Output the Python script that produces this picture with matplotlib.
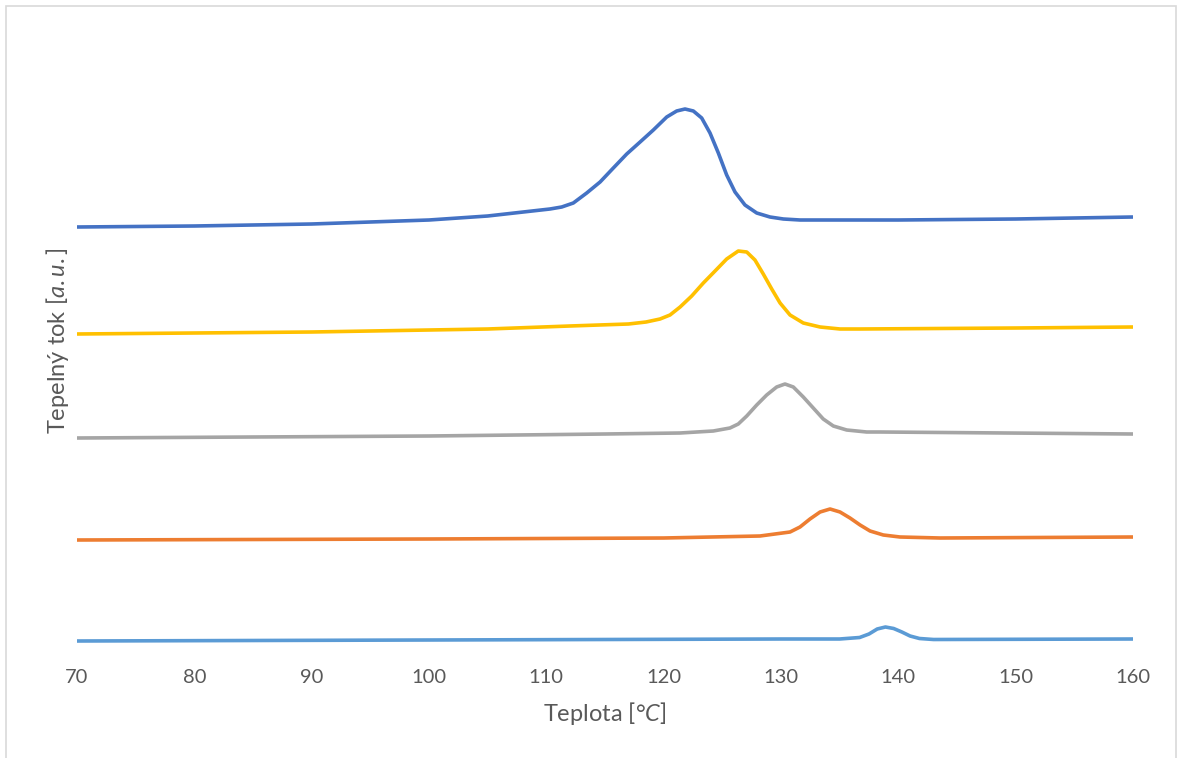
import numpy as np
import matplotlib.pyplot as plt
from matplotlib.patches import Rectangle

# Data (temperature in °C, heat flow in a.u.)
x_blue = [70, 80, 90, 100, 105, 110.31, 111.31, 112.30, 113.44, 114.58, 115.71,
          116.85, 117.99, 119.12, 120.26, 121.11, 121.82, 122.53, 123.24, 123.95,
          124.66, 125.37, 126.08, 126.93, 127.93, 129.06, 130.20, 131.62, 140,
          150, 160]
y_blue = [4.25, 4.26, 4.28, 4.32, 4.36, 4.43, 4.45, 4.49, 4.59, 4.70, 4.84,
          4.98, 5.10, 5.22, 5.35, 5.41, 5.43, 5.41, 5.34, 5.19,
          4.99, 4.77, 4.60, 4.47, 4.39, 4.35, 4.33, 4.32, 4.32,
          4.33, 4.35]

x_yellow = [70, 90, 105, 112, 117, 118.5, 119.69, 120.54, 121.40, 122.39,
            123.38, 124.38, 125.37, 126.36, 127.08, 127.78, 128.49, 129.21,
            129.92, 130.77, 131.90, 133.33, 135.03, 136.74, 150, 160]
y_yellow = [3.18, 3.20, 3.23, 3.26, 3.28, 3.30, 3.33, 3.37, 3.45, 3.56,
            3.69, 3.81, 3.93, 4.01, 4.00, 3.92, 3.78, 3.63,
            3.49, 3.37, 3.29, 3.25, 3.23, 3.23, 3.24, 3.25]

x_grey = [70, 100, 115, 121.40, 124.23, 125.65, 126.36, 127.08, 127.93, 128.78,
          129.63, 130.34, 131.05, 131.90, 132.75, 133.60, 134.46, 135.60,
          137.30, 138.43, 160]
y_grey = [2.14, 2.16, 2.18, 2.19, 2.21, 2.24, 2.28, 2.36, 2.47, 2.57,
          2.65, 2.68, 2.65, 2.55, 2.44, 2.33, 2.26, 2.22,
          2.20, 2.20, 2.18]

x_orange = [70, 100, 120, 128.21, 130.77, 131.62, 132.47, 133.33, 134.18,
            135.03, 135.88, 136.74, 137.59, 138.72, 140.14, 143.55, 160]
y_orange = [1.12, 1.13, 1.14, 1.16, 1.20, 1.25, 1.33, 1.40, 1.43,
            1.40, 1.34, 1.27, 1.21, 1.17, 1.15, 1.14, 1.15]

x_light = [70, 100, 130, 135, 136.7, 137.5, 138.2, 138.9, 139.6, 140.3,
           141.0, 141.8, 143.0, 160]
y_light = [0.11, 0.12, 0.13, 0.13, 0.145, 0.18, 0.23, 0.25, 0.235, 0.20,
           0.16, 0.135, 0.125, 0.13]

xticks = [70, 80, 90, 100, 110, 120, 130, 140, 150, 160]

plt.rcParams['font.family'] = ['Lato', 'DejaVu Sans']
plt.rcParams['mathtext.fontset'] = 'custom'
plt.rcParams['mathtext.it'] = 'Lato:italic'
plt.rcParams['mathtext.rm'] = 'Lato'

fig = plt.figure(figsize=(11.79, 7.58), dpi=100)
ax = fig.add_axes([77 / 1179, 106 / 758, 1056 / 1179, 622 / 758])

series = [
    (x_blue, y_blue, "#4472C4"),
    (x_yellow, y_yellow, "#FFC000"),
    (x_grey, y_grey, "#A5A5A5"),
    (x_orange, y_orange, "#ED7D31"),
    (x_light, y_light, "#5B9BD5"),
]
for xs, ys, c in series:
    ax.plot(xs, ys, color=c, lw=2.6, solid_joinstyle="round", solid_capstyle="butt")

ax.set_xlim(70, 160)
ax.set_ylim(0, 6.22)
ax.set_xticks(xticks)
ax.set_yticks([])
ax.tick_params(axis="x", length=0, pad=12, labelsize=14.5, labelcolor="#595959")
for s in ax.spines.values():
    s.set_visible(False)

ax.set_xlabel("Teplota [°$\\it{C}$]", fontsize=17, color="#595959", labelpad=10)
ax.set_ylabel("Tepelný tok [$\\it{a.u.}$]", fontsize=17, color="#595959", labelpad=4)

# Light grey chart border
fig.patches.append(Rectangle((6 / 1179, -0.01), 1170 / 1179, 1.0 - 6 / 758 + 0.01,
                             transform=fig.transFigure, fill=False,
                             edgecolor="#D9D9D9", lw=1.2))

fig.savefig("out.png", dpi=100)
